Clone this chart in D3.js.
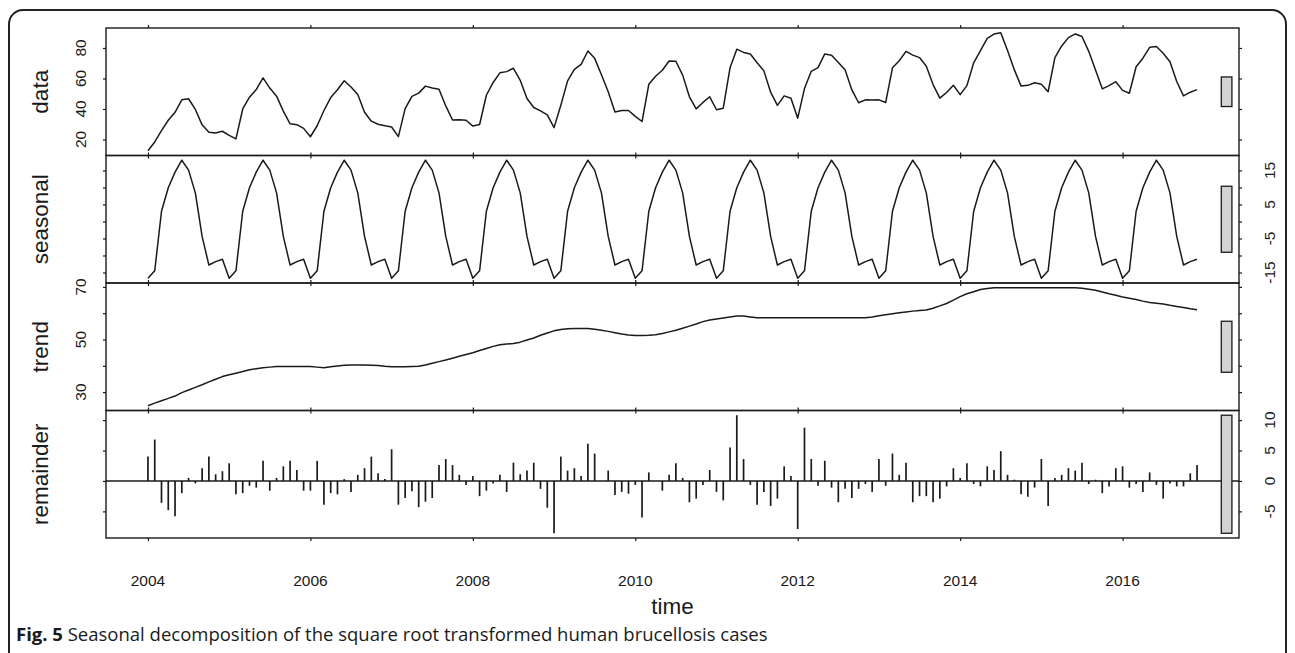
<!DOCTYPE html>
<html>
<head>
<meta charset="utf-8">
<script src="https://cdn.jsdelivr.net/npm/d3@7/dist/d3.min.js"></script>
<style>
  body { margin: 0; background: #fff; }
  svg text { fill: #1a1a1a; }
</style>
</head>
<body>
<div id="chart"></div>
<script>
// monthly series, Jan 2004 .. Dec 2016
const startYear = 2004;

const dataVals = [
  12.6, 18.4, 25.8, 32.6, 37.8, 46.0, 46.7, 39.7, 29.6, 24.7, 24.3, 25.4,
  22.7, 20.4, 40.0, 47.7, 52.7, 60.4, 53.7, 48.4, 38.6, 30.3, 29.7, 27.3,
  21.8, 29.0, 39.0, 47.5, 52.6, 58.5, 54.4, 49.5, 37.9, 32.0, 30.0, 29.0,
  28.2, 21.9, 40.2, 48.3, 50.4, 55.0, 53.8, 53.0, 42.0, 32.8, 32.9, 32.6,
  28.8, 29.8, 49.0, 57.4, 63.7, 64.5, 66.7, 58.8, 46.9, 41.0, 38.8, 36.1,
  27.8, 42.5, 58.4, 66.0, 69.2, 78.0, 73.2, 62.5, 51.3, 38.0, 39.0, 39.0,
  35.2, 31.8, 56.2, 61.5, 65.4, 71.5, 71.3, 62.2, 48.0, 40.1, 44.3, 48.0,
  39.5, 40.5, 67.0, 79.2, 77.1, 76.0, 70.3, 65.0, 51.0, 42.4, 48.6, 47.0,
  34.0, 53.4, 64.7, 67.1, 76.1, 75.3, 70.5, 65.7, 52.5, 44.1, 46.0, 45.9,
  46.0, 44.3, 67.0, 71.6, 77.8, 75.3, 73.7, 68.0, 56.0, 47.1, 50.8, 55.6,
  49.4, 55.3, 70.3, 78.3, 86.3, 89.1, 90.0, 78.3, 65.8, 55.0, 55.5, 57.2,
  56.2, 51.3, 73.7, 81.3, 86.8, 89.2, 87.5, 77.8, 65.6, 53.2, 55.3, 57.9,
  52.2, 50.3, 67.7, 73.3, 80.4, 81.0, 76.6, 71.0, 58.0, 48.6, 51.0, 52.7
];

const seasonalVals = [
  -16.7, -14.5, 3.0, 9.9, 14.5, 18.0, 15.1, 8.4, -4.4, -12.8, -11.8, -11.1,
  -16.7, -14.5, 3.0, 9.9, 14.5, 18.0, 15.1, 8.4, -4.4, -12.8, -11.8, -11.1,
  -16.7, -14.5, 3.0, 9.9, 14.5, 18.0, 15.1, 8.4, -4.4, -12.8, -11.8, -11.1,
  -16.7, -14.5, 3.0, 9.9, 14.5, 18.0, 15.1, 8.4, -4.4, -12.8, -11.8, -11.1,
  -16.7, -14.5, 3.0, 9.9, 14.5, 18.0, 15.1, 8.4, -4.4, -12.8, -11.8, -11.1,
  -16.7, -14.5, 3.0, 9.9, 14.5, 18.0, 15.1, 8.4, -4.4, -12.8, -11.8, -11.1,
  -16.7, -14.5, 3.0, 9.9, 14.5, 18.0, 15.1, 8.4, -4.4, -12.8, -11.8, -11.1,
  -16.7, -14.5, 3.0, 9.9, 14.5, 18.0, 15.1, 8.4, -4.4, -12.8, -11.8, -11.1,
  -16.7, -14.5, 3.0, 9.9, 14.5, 18.0, 15.1, 8.4, -4.4, -12.8, -11.8, -11.1,
  -16.7, -14.5, 3.0, 9.9, 14.5, 18.0, 15.1, 8.4, -4.4, -12.8, -11.8, -11.1,
  -16.7, -14.5, 3.0, 9.9, 14.5, 18.0, 15.1, 8.4, -4.4, -12.8, -11.8, -11.1,
  -16.7, -14.5, 3.0, 9.9, 14.5, 18.0, 15.1, 8.4, -4.4, -12.8, -11.8, -11.1,
  -16.7, -14.5, 3.0, 9.9, 14.5, 18.0, 15.1, 8.4, -4.4, -12.8, -11.8, -11.1
];

const trendVals = [
  24.8, 25.8, 26.7, 27.6, 28.5, 29.8, 30.8, 31.8, 32.8, 33.9, 34.9, 35.9,
  36.6, 37.2, 37.8, 38.5, 38.9, 39.3, 39.5, 39.7, 39.7, 39.7, 39.7, 39.7,
  39.7, 39.5, 39.3, 39.6, 39.9, 40.2, 40.3, 40.3, 40.3, 40.2, 40.1, 39.8,
  39.6, 39.6, 39.6, 39.7, 39.8, 40.3, 41.0, 41.6, 42.2, 42.9, 43.6, 44.3,
  45.0, 45.8, 46.6, 47.4, 48.0, 48.3, 48.5, 49.0, 49.8, 50.6, 51.6, 52.5,
  53.3, 53.8, 54.1, 54.2, 54.2, 54.2, 53.9, 53.5, 53.1, 52.6, 52.1, 51.7,
  51.5, 51.5, 51.6, 51.8, 52.3, 52.9, 53.5, 54.3, 55.1, 55.9, 56.8, 57.4,
  57.8, 58.2, 58.6, 58.9, 58.9, 58.6, 58.3, 58.3, 58.3, 58.3, 58.3, 58.3,
  58.3, 58.3, 58.3, 58.3, 58.3, 58.3, 58.3, 58.3, 58.3, 58.3, 58.3, 58.6,
  59.0, 59.4, 59.8, 60.2, 60.5, 60.8, 61.0, 61.2, 61.9, 62.8, 63.7, 65.0,
  66.3, 67.4, 68.2, 69.0, 69.4, 69.7, 69.7, 69.7, 69.7, 69.7, 69.7, 69.7,
  69.7, 69.7, 69.7, 69.7, 69.7, 69.7, 69.5, 69.1, 68.7, 68.1, 67.4, 66.8,
  66.2, 65.7, 65.2, 64.6, 64.1, 63.8, 63.5, 63.0, 62.6, 62.2, 61.7, 61.3
];

const remainderVals = [
  4.0, 6.8, -3.6, -4.8, -5.8, -2.0, 0.5, -0.4, 2.1, 4.0, 1.1, 1.6,
  2.9, -2.2, -2.0, -0.8, -1.1, 3.3, -1.6, 0.5, 2.4, 3.3, 1.8, -1.6,
  -1.6, 3.3, -3.9, -2.0, -2.2, 0.3, -1.8, 1.0, 2.1, 4.0, 1.25, 0.3,
  5.2, -3.9, -2.8, -1.7, -4.3, -3.4, -2.8, 2.6, 3.6, 2.6, 1.0, -0.65,
  0.8, -2.5, -1.6, -0.4, 1.0, -1.8, 3.0, 1.1, 1.7, 3.0, -1.3, -4.4,
  -8.6, 4.0, 1.7, 2.1, 0.8, 6.1, 4.5, 0.0, 1.7, -2.3, -1.8, -2.1,
  -0.65, -6.0, 1.4, 0.0, -1.6, 1.0, 2.9, 0.5, -3.5, -2.9, -0.65, 1.8,
  -1.8, -3.2, 5.5, 10.8, 3.6, -0.65, -3.9, -1.8, -4.1, -2.9, 2.4, 0.8,
  -7.9, 8.75, 3.6, -0.8, 3.3, -1.1, -3.5, -1.3, -2.8, -1.3, -0.5, -1.8,
  3.6, -0.8, 4.5, 1.0, 3.0, -3.5, -2.5, -2.5, -3.5, -2.9, -0.9, 2.1,
  0.5, 2.9, -0.5, -0.9, 2.4, 1.8, 4.9, 1.0, 0.2, -2.2, -2.6, -1.1,
  3.6, -4.1, 0.5, 1.0, 2.1, 1.7, 3.0, -0.5, 0.2, -2.0, -0.9, 2.1,
  2.4, -1.1, -0.5, -1.8, 1.4, -0.65, -2.9, -0.4, -0.9, -0.9, 1.25, 2.6
];

const panelNames = ["data", "seasonal", "trend", "remainder"];
const yearTicks = [2004, 2006, 2008, 2010, 2012, 2014, 2016];
const yTicks = [
  [20, 40, 60, 80],
  [-15, -10, -5, 0, 5, 10, 15],
  [30, 40, 50, 60, 70],
  [-5, 0, 5, 10]
];
const yTickLabels = [
  [20, 40, 60, 80],
  [-15, -5, 5, 15],
  [30, 50, 70],
  [-5, 0, 5, 10]
];
const xTitle = "time";
const captionBold = "Fig. 5";
const captionText = " Seasonal decomposition of the square root transformed human brucellosis cases";

////////////////////
// LAYOUT
////////////////////
const w = 1295, h = 653;
const left = 106, right = 1239;
const top0 = 28, panelH = 127.5;
const ink = "#1a1a1a";
const font = "'Liberation Sans', Arial, sans-serif";

const series = [dataVals, seasonalVals, trendVals, remainderVals];
const times = dataVals.map((d, i) => startYear + i / 12);

let svg = d3.select("#chart").append("svg")
  .attr("width", w)
  .attr("height", h);

// outer figure frame
svg.append("rect")
  .attr("x", 9).attr("y", 10)
  .attr("width", 1277).attr("height", 720)
  .attr("rx", 14)
  .attr("fill", "none")
  .attr("stroke", "#222")
  .attr("stroke-width", 2);

// x scale, R style 4% padding
let tExt = d3.extent(times);
let tPad = 0.04 * (tExt[1] - tExt[0]);
let x = d3.scaleLinear()
  .domain([tExt[0] - tPad, tExt[1] + tPad])
  .range([left, right]);

// range bar height = smallest component range
let ranges = series.map(s => d3.extent(s));
let minRange = d3.min(ranges, r => r[1] - r[0]);
let dx = (right - left) / 64;

series.forEach(function(vals, p) {
  let py0 = top0 + p * panelH;
  let py1 = py0 + panelH;
  let ext = ranges[p];
  let pad = 0.04 * (ext[1] - ext[0]);
  let y = d3.scaleLinear()
    .domain([ext[0] - pad, ext[1] + pad])
    .range([py1, py0]);

  let g = svg.append("g");

  if (p < 3) {
    let line = d3.line()
      .x((d, i) => x(times[i]))
      .y(d => y(d));
    g.append("path")
      .datum(vals)
      .attr("d", line)
      .attr("fill", "none")
      .attr("stroke", ink)
      .attr("stroke-width", 1.5)
      .attr("stroke-linejoin", "round");
  } else {
    g.selectAll("line.bar")
      .data(vals)
      .enter()
      .append("line")
      .attr("class", "bar")
      .attr("x1", (d, i) => x(times[i]))
      .attr("x2", (d, i) => x(times[i]))
      .attr("y1", y(0))
      .attr("y2", d => y(d))
      .attr("stroke", ink)
      .attr("stroke-width", 1.7);
    g.append("line")
      .attr("x1", left).attr("x2", right)
      .attr("y1", y(0)).attr("y2", y(0))
      .attr("stroke", ink)
      .attr("stroke-width", 1.4);
  }

  // range bar
  let mid = (ext[0] + ext[1]) / 2;
  g.append("rect")
    .attr("x", right - dx)
    .attr("y", y(mid + minRange / 2))
    .attr("width", dx * 0.6)
    .attr("height", y(mid - minRange / 2) - y(mid + minRange / 2))
    .attr("fill", "#d3d3d3")
    .attr("stroke", ink)
    .attr("stroke-width", 1.3);

  // box
  g.append("rect")
    .attr("x", left).attr("y", py0)
    .attr("width", right - left).attr("height", panelH)
    .attr("fill", "none")
    .attr("stroke", ink)
    .attr("stroke-width", 1.4);

  // y ticks both sides, labels alternate
  let labRight = p % 2 === 1;
  let yAxisL = d3.axisLeft(y).tickValues(yTicks[p]).tickSize(3).tickFormat("");
  let yAxisR = d3.axisRight(y).tickValues(yTicks[p]).tickSize(3).tickFormat("");
  g.append("g").attr("transform", `translate(${left},0)`).call(yAxisL);
  g.append("g").attr("transform", `translate(${right},0)`).call(yAxisR);
  g.selectAll(".domain").remove();
  g.selectAll(".tick line").attr("stroke", ink).attr("stroke-width", 1.2);

  g.selectAll("text.ylab")
    .data(yTickLabels[p])
    .enter()
    .append("text")
    .attr("class", "ylab")
    .attr("transform", d => `translate(${labRight ? 1275 : 86},${y(d)}) rotate(-90)`)
    .attr("text-anchor", "middle")
    .style("font-family", font)
    .style("font-size", "15.5px")
    .text(d => d);

  // x ticks top and bottom
  let xTop = d3.axisTop(x).tickValues(yearTicks).tickSize(3).tickFormat("");
  let xBot = d3.axisBottom(x).tickValues(yearTicks).tickSize(3).tickFormat("");
  let gt = g.append("g").attr("transform", `translate(0,${py0})`).call(xTop);
  let gb = g.append("g").attr("transform", `translate(0,${py1})`).call(xBot);
  [gt, gb].forEach(a => {
    a.select(".domain").remove();
    a.selectAll(".tick line").attr("stroke", ink).attr("stroke-width", 1.2);
  });

  // panel title
  g.append("text")
    .attr("transform", `translate(48,${(py0 + py1) / 2}) rotate(-90)`)
    .attr("text-anchor", "middle")
    .style("font-family", font)
    .style("font-size", "22.5px")
    .text(panelNames[p]);
});

// year labels
let bottom = top0 + 4 * panelH;
svg.selectAll("text.year")
  .data(yearTicks)
  .enter()
  .append("text")
  .attr("class", "year")
  .attr("x", d => x(d))
  .attr("y", bottom + 48)
  .attr("text-anchor", "middle")
  .style("font-family", font)
  .style("font-size", "15.5px")
  .text(d => d);

svg.append("text")
  .attr("x", (left + right) / 2)
  .attr("y", bottom + 76)
  .attr("text-anchor", "middle")
  .style("font-family", font)
  .style("font-size", "22.5px")
  .text(xTitle);

// caption
let cap = svg.append("text")
  .attr("x", 16)
  .attr("y", 641)
  .style("font-family", "'Open Sans', sans-serif")
  .style("font-size", "18.5px");
cap.append("tspan").style("font-weight", "bold").text(captionBold);
cap.append("tspan").text(captionText);
</script>
</body>
</html>
